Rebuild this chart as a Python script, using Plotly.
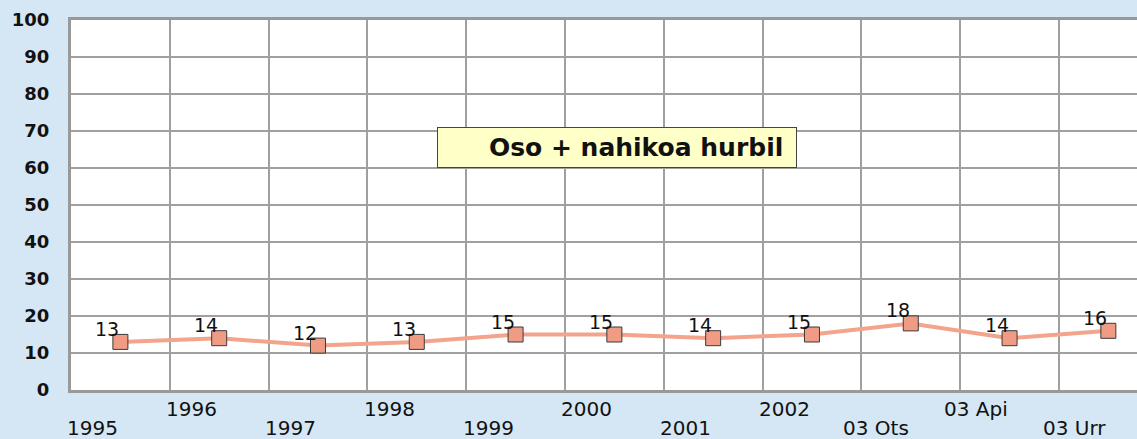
import plotly.graph_objects as go

categories = ["1995", "1996", "1997", "1998", "1999", "2000", "2001", "2002", "03 Ots", "03 Api", "03 Urr"]
values = [13, 14, 12, 13, 15, 15, 14, 15, 18, 14, 16]
series_name = "Oso + nahikoa hurbil"
y_ticks = list(range(0, 101, 10))

BG = "#D5E7F4"
GRID = "#A0A0A0"

x_idx = list(range(len(categories)))

fig = go.Figure()
fig.add_trace(go.Scatter(
    x=x_idx, y=values, mode="lines+markers",
    line=dict(color="#F4A38C", width=4),
    marker=dict(symbol="square", size=15, color="#F09C84",
                line=dict(color="#3A3A3A", width=1)),
    name=series_name, showlegend=False, cliponaxis=False,
    hoverinfo="skip",
))

annotations = []
for i, (c, v) in enumerate(zip(categories, values)):
    annotations.append(dict(
        x=i, y=v, xref="x", yref="y", text=str(v), showarrow=False,
        xanchor="center", yanchor="middle", xshift=-13, yshift=13,
        font=dict(family="DejaVu Sans", size=19, color="#111111"),
    ))
    annotations.append(dict(
        x=i, y=0, xref="x", yref="paper", text=c, showarrow=False,
        xanchor="right", yanchor="middle", xshift=0,
        yshift=-19 if i % 2 == 1 else -38,
        font=dict(family="DejaVu Sans", size=20, color="#111111"),
    ))

annotations.append(dict(
    x=0.512, y=65.5, xref="paper", yref="y",
    text=series_name + "&nbsp;", showarrow=False,
    xanchor="center", yanchor="middle", align="right",
    width=350, height=31, borderpad=4, borderwidth=1,
    bgcolor="#FFFFC8", bordercolor="#444444",
    font=dict(family="DejaVu Sans", size=25, color="#111111", weight="bold"),
))

fig.update_layout(
    width=1137, height=439,
    margin=dict(l=71, r=0, t=20, b=49),
    paper_bgcolor=BG, plot_bgcolor="#FFFFFF",
    annotations=annotations,
    hovermode=False,
    xaxis=dict(
        type="linear", range=[-0.5, 10.29],
        tickvals=[i + 0.5 for i in x_idx[:-1]],
        showgrid=True, gridcolor=GRID, gridwidth=2,
        showticklabels=False, ticks="",
        showline=True, linecolor="#999999", linewidth=3, mirror=True,
        zeroline=False,
    ),
    yaxis=dict(
        range=[0, 100], tickvals=y_ticks,
        showgrid=True, gridcolor=GRID, gridwidth=2,
        showline=True, linecolor="#999999", linewidth=3,
        ticks="", ticklabelstandoff=15, zeroline=False,
        tickfont=dict(family="DejaVu Sans", size=18, color="#111111", weight="bold"),
    ),
)

fig.write_html(
    "out.html",
    config={"displayModeBar": False},
    post_script="document.body.style.margin='0';document.body.style.overflow='hidden';",
)
